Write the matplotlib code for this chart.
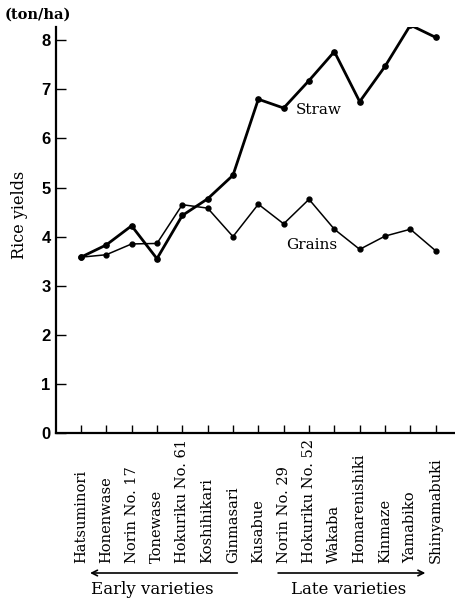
import matplotlib.pyplot as plt
import matplotlib.transforms as mtransforms

# rice yields by variety, ton/ha
varieties = ['Hatsuminori', 'Honenwase', 'Norin No. 17', 'Tonewase',
             'Hokuriku No. 61', 'Koshihikari', 'Ginmasari', 'Kusabue',
             'Norin No. 29', 'Hokuriku No. 52', 'Wakaba', 'Homarenishiki',
             'Kinmaze', 'Yamabiko', 'Shinyamabuki']
straw = [3.58, 3.83, 4.22, 3.55, 4.43, 4.77, 5.25, 6.80,
         6.62, 7.18, 7.77, 6.75, 7.47, 8.31, 8.06]
grains = [3.58, 3.63, 3.85, 3.86, 4.65, 4.58, 4.00, 4.66,
          4.26, 4.76, 4.15, 3.74, 4.01, 4.15, 3.71]
yticks = [0, 1, 2, 3, 4, 5, 6, 7, 8]

serif = 'DejaVu Serif'

fig = plt.figure(figsize=(4.56, 6.02), dpi=100)
ax = fig.add_axes([0.123, 0.281, 0.877, 0.674])

x = list(range(len(varieties)))
ax.plot(x, straw, color='black', lw=2.0, marker='o', ms=3.8)
ax.plot(x, grains, color='black', lw=1.1, marker='o', ms=3.5)

ax.set_xlim(-0.98, 14.8)
ax.set_ylim(0, 8.27)
ax.set_yticks(yticks)
ax.set_yticklabels([str(v) for v in yticks], fontsize=12,
                   fontfamily='Liberation Sans', fontweight='bold')
ax.set_xticks(x)
ax.set_xticklabels([])
ax.tick_params(axis='y', direction='in', length=7, width=1, pad=4)
ax.tick_params(axis='x', direction='in', length=6, width=1)
for s in ['top', 'right']:
    ax.spines[s].set_visible(False)
ax.spines['left'].set_linewidth(1.6)
ax.spines['bottom'].set_linewidth(1.6)

ax.set_ylabel('Rice yields', fontfamily=serif, fontsize=11.5)
ax.yaxis.set_label_coords(-0.07, 0.537)
fig.text(0.01, 0.975, '(ton/ha)', fontfamily=serif, fontsize=10.5,
         fontweight='bold', ha='left', va='center')

ax.text(9.4, 6.58, 'Straw', fontfamily=serif, fontsize=11, ha='center', va='center')
ax.text(9.1, 3.83, 'Grains', fontfamily=serif, fontsize=11, ha='center', va='center')

# variety names below the axis, rotated and bottom aligned
trans = mtransforms.blended_transform_factory(ax.transData, fig.transFigure)
for i, name in enumerate(varieties):
    ax.text(i, 1 - 563 / 602, name, transform=trans, rotation=90,
            fontfamily=serif, fontsize=10.5, ha='center', va='bottom',
            clip_on=False)

# early / late group arrows
ya = 1 - 573 / 602
ax.annotate('', xy=(0.25, ya), xytext=(6.28, ya), xycoords=trans,
            textcoords=trans,
            arrowprops=dict(arrowstyle='->', lw=1.2, color='black'),
            annotation_clip=False)
ax.annotate('', xy=(13.7, ya), xytext=(7.67, ya), xycoords=trans,
            textcoords=trans,
            arrowprops=dict(arrowstyle='->', lw=1.2, color='black'),
            annotation_clip=False)
ax.text(2.8, 1 - 590 / 602, 'Early varieties', transform=trans,
        fontfamily=serif, fontsize=12, ha='center', va='center')
ax.text(10.55, 1 - 590 / 602, 'Late varieties', transform=trans,
        fontfamily=serif, fontsize=12, ha='center', va='center')

fig.savefig('out.png', dpi=100)
